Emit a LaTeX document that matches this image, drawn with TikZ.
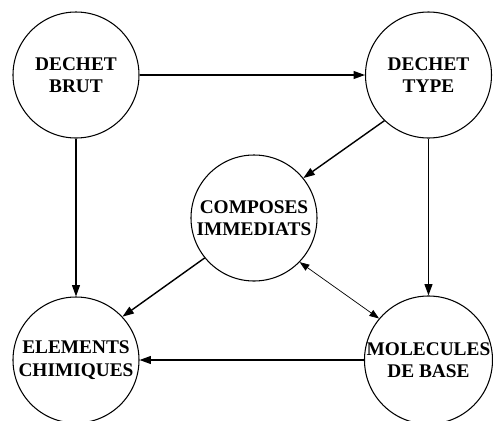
\documentclass[tikz,border=0pt]{standalone}
\usepackage{fontspec}
\setmainfont{Liberation Serif}
\usetikzlibrary{arrows.meta}
\usetikzlibrary{positioning}

\begin{document}
\begin{tikzpicture}[node distance=7.05cm,on grid,
    etat/.style={circle,draw,line width=0.6pt,minimum size=2.52cm,inner sep=0pt,align=center,font=\fontsize{11}{12.8}\selectfont\bfseries},
    fleche/.style={-{Triangle[length=6.5pt,width=4.5pt]},line width=0.8pt}]
   \useasboundingbox (-1.52,1.5) rectangle (8.34,-6.92);
   \node[etat] (brut) {DECHET\\BRUT};
   \node[etat] (type) [right=of brut] {DECHET\\TYPE};
   \node[etat] (elem) [below=5.7cm of brut] {ELEMENTS\\CHIMIQUES};
   \node[etat] (mol) [right=of elem] {MOLECULES\\DE BASE};
   \node[etat] (comp) [below right=2.86cm and 3.56cm of brut] {COMPOSES\\IMMEDIATS};
    \path[fleche]
    (brut) edge (type)
    (brut) edge (elem)
    (type.226) edge (comp.39)
    (type) edge (mol)
    (comp.219) edge (elem.43)
    (mol) edge (elem);
    \path[{Triangle[length=5.5pt,width=4pt]}-{Triangle[length=5.5pt,width=4pt]},line width=0.4pt]
    (comp.316) edge (mol.140);
\end{tikzpicture}
\end{document}
